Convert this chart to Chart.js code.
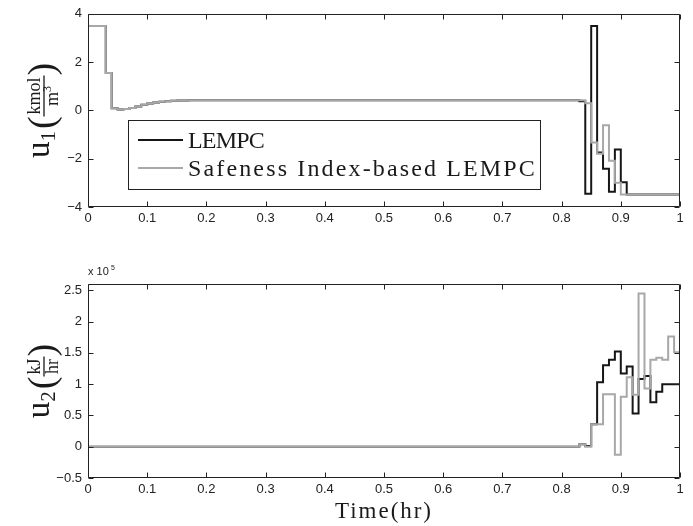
<!DOCTYPE html>
<html>
<head>
<meta charset="utf-8">
<script src="https://cdn.jsdelivr.net/npm/chart.js@4.4.0/dist/chart.umd.min.js"></script>
<style>
  html, body { margin: 0; padding: 0; background: #fff; }
  #wrap { position: relative; width: 693px; height: 526px; }
  canvas { position: absolute; left: 0; }
  #topChart { top: 0; }
  #bottomChart { top: 260px; }
</style>
</head>
<body>
<div id="wrap">
  <canvas id="topChart" width="693" height="260"></canvas>
  <canvas id="bottomChart" width="693" height="266"></canvas>
</div>
<script>
// ---- data ---------------------------------------------------------------
const seriesNames = ['LEMPC', 'Safeness Index-based LEMPC'];

const xTicks = [0, 0.1, 0.2, 0.3, 0.4, 0.5, 0.6, 0.7, 0.8, 0.9, 1];
const xTickLabels = ['0', '0.1', '0.2', '0.3', '0.4', '0.5', '0.6', '0.7', '0.8', '0.9', '1'];
const u1Ticks = [-4, -2, 0, 2, 4];
const u1TickLabels = ['\u22124', '\u22122', '0', '2', '4'];
const u2Ticks = [-0.5, 0, 0.5, 1, 1.5, 2, 2.5];
const u2TickLabels = ['\u22120.5', '0', '0.5', '1', '1.5', '2', '2.5'];

// u1 (kmol/m3), piecewise constant: value holds from time[i] to time[i+1]
const u1LempcTime  = [0, 0.03, 0.04, 0.05, 0.06, 0.07, 0.08, 0.09, 0.10, 0.11, 0.12, 0.13, 0.14, 0.15, 0.17, 0.83, 0.84, 0.85, 0.86, 0.87, 0.88, 0.89, 0.90, 0.91, 1.00];
const u1LempcValue = [3.5, 1.55, 0.09, 0.04, 0.06, 0.10, 0.16, 0.23, 0.29, 0.33, 0.36, 0.38, 0.40, 0.41, 0.42, 0.38, -3.45, 3.5, -1.74, -2.42, -3.37, -1.62, -2.97, -3.48, -3.48];
const u1SafeTime   = [0, 0.03, 0.04, 0.05, 0.06, 0.07, 0.08, 0.09, 0.10, 0.11, 0.12, 0.13, 0.14, 0.15, 0.17, 0.84, 0.85, 0.86, 0.87, 0.88, 0.89, 0.90, 1.00];
const u1SafeValue  = [3.5, 1.55, 0.09, 0.04, 0.06, 0.10, 0.16, 0.23, 0.29, 0.33, 0.36, 0.38, 0.40, 0.41, 0.42, 0.30, -1.33, -1.80, -0.62, -2.08, -3.0, -3.48, -3.48];

// u2 in units of 1e5 kJ/hr
const u2LempcTime  = [0, 0.83, 0.84, 0.85, 0.86, 0.87, 0.88, 0.89, 0.90, 0.91, 0.92, 0.93, 0.94, 0.95, 0.96, 0.97, 1.00];
const u2LempcValue = [0, 0.04, 0.01, 0.36, 1.03, 1.30, 1.39, 1.52, 1.17, 1.28, 0.53, 1.08, 1.13, 0.71, 0.88, 1.0, 1.0];
const u2SafeTime   = [0, 0.83, 0.84, 0.85, 0.87, 0.89, 0.90, 0.91, 0.92, 0.93, 0.94, 0.95, 0.96, 0.97, 0.98, 0.99, 1.00];
const u2SafeValue  = [0, 0.04, 0.0, 0.36, 0.84, -0.13, 0.80, 1.11, 0.83, 2.45, 0.93, 1.39, 1.42, 1.39, 1.76, 1.51, 1.51];

const BLACK = '#161616';
const GRAY = '#a8a8a8';
const SERIF = '"Liberation Serif", "DejaVu Serif", serif';
const SANS = '"Liberation Sans", Arial, sans-serif';

// draw text stretched (via letter spacing) to a given width
function fitText(ctx, text, x, y, width) {
  ctx.letterSpacing = '0px';
  const w = ctx.measureText(text).width;
  ctx.letterSpacing = ((width - w) / text.length) + 'px';
  ctx.fillText(text, x, y);
  ctx.letterSpacing = '0px';
}

// box around the plot with inward MATLAB-style ticks on all four sides
const axisFrame = {
  id: 'axisFrame',
  afterDatasetsDraw(chart) {
    const { ctx, chartArea: a, scales } = chart;
    const L = Math.round(a.left) + 0.5, R = Math.round(a.right) - 0.5;
    const T = Math.round(a.top) + 0.5, B = Math.round(a.bottom) - 0.5;
    ctx.save();
    ctx.strokeStyle = '#222';
    ctx.lineWidth = 1;
    ctx.beginPath();
    scales.x.ticks.forEach(t => {
      const x = Math.round(scales.x.getPixelForValue(t.value)) + 0.5;
      ctx.moveTo(x, B); ctx.lineTo(x, B - 5);
      ctx.moveTo(x, T); ctx.lineTo(x, T + 5);
    });
    scales.y.ticks.forEach(t => {
      const y = Math.round(scales.y.getPixelForValue(t.value)) + 0.5;
      ctx.moveTo(L, y); ctx.lineTo(L + 5, y);
      ctx.moveTo(R, y); ctx.lineTo(R - 5, y);
    });
    ctx.rect(L, T, R - L, B - T);
    ctx.stroke();
    ctx.restore();
  }
};

// rotated y label like u_1( num / den )
const mathLabel = {
  id: 'mathLabel',
  afterDraw(chart, args, opt) {
    const { ctx, chartArea: a } = chart;
    ctx.save();
    ctx.fillStyle = '#1a1a1a';
    ctx.strokeStyle = '#1a1a1a';
    ctx.textBaseline = 'alphabetic';
    ctx.textAlign = 'left';
    const fU = '33px ' + SERIF, fSub = '21px ' + SERIF, fPar = '38px ' + SERIF;
    const fFrac = '18px ' + SERIF, fSup = '12px ' + SERIF;
    ctx.font = fU; const wU = ctx.measureText('u').width;
    ctx.font = fSub; const wSub = ctx.measureText(opt.sub).width;
    ctx.font = fPar; const wPar = ctx.measureText('(').width;
    ctx.font = fFrac;
    const wNum = ctx.measureText(opt.num).width;
    const wDen = ctx.measureText(opt.den).width;
    ctx.font = fSup;
    const wSup = opt.sup ? ctx.measureText(opt.sup).width : 0;
    const wFrac = Math.max(wNum, wDen + wSup) + 4;
    const total = wU + wSub + 2 + wPar + wFrac + wPar;
    ctx.translate(opt.baseX, (a.top + a.bottom) / 2);
    ctx.rotate(-Math.PI / 2);
    let p = -total / 2;
    ctx.font = fU; ctx.fillText('u', p, 0); p += wU;
    ctx.font = fSub; ctx.fillText(opt.sub, p, 6); p += wSub + 2;
    ctx.font = fPar; ctx.fillText('(', p, 5); p += wPar;
    ctx.font = fFrac;
    ctx.fillText(opt.num, p + (wFrac - wNum) / 2, -9);
    const dx = p + (wFrac - wDen - wSup) / 2;
    ctx.fillText(opt.den, dx, 9);
    if (opt.sup) { ctx.font = fSup; ctx.fillText(opt.sup, dx + wDen, 2); }
    ctx.lineWidth = 1.3;
    ctx.beginPath(); ctx.moveTo(p, -5); ctx.lineTo(p + wFrac, -5); ctx.stroke();
    p += wFrac;
    ctx.font = fPar; ctx.fillText(')', p, 5);
    ctx.restore();
  }
};

// legend box inside the top plot
const boxLegend = {
  id: 'boxLegend',
  afterDraw(chart) {
    const { ctx } = chart;
    ctx.save();
    ctx.fillStyle = '#fff';
    ctx.fillRect(128, 120, 413, 70);
    ctx.strokeStyle = '#222';
    ctx.lineWidth = 1;
    ctx.strokeRect(128.5, 120.5, 412, 69);
    const colors = [BLACK, GRAY];
    const widths = [76, 349];
    seriesNames.forEach((name, i) => {
      const y = 140 + i * 28;
      ctx.strokeStyle = colors[i];
      ctx.lineWidth = 2;
      ctx.beginPath(); ctx.moveTo(138, y); ctx.lineTo(183, y); ctx.stroke();
      ctx.fillStyle = '#1a1a1a';
      ctx.font = '24px ' + SERIF;
      ctx.textBaseline = 'alphabetic';
      fitText(ctx, name, 188, y + 8, widths[i]);
    });
    ctx.restore();
  }
};

// x title and exponent note of the lower plot
const bottomNotes = {
  id: 'bottomNotes',
  afterDraw(chart) {
    const { ctx } = chart;
    ctx.save();
    ctx.fillStyle = '#1a1a1a';
    ctx.textBaseline = 'alphabetic';
    ctx.font = '23px ' + SERIF;
    fitText(ctx, 'Time(hr)', 335, 258, 98);
    ctx.font = '11px ' + SANS;
    ctx.fillText('x 10', 88, 15);
    ctx.font = '7px ' + SANS;
    ctx.fillText('5', 111, 10);
    ctx.restore();
  }
};

function stepSet(label, time, value, color, order) {
  return {
    label: label,
    data: time.map((t, i) => ({ x: t, y: value[i] })),
    borderColor: color,
    borderWidth: 2,
    pointRadius: 0,
    stepped: 'before',
    tension: 0,
    fill: false,
    order: order
  };
}

function makeChart(id, sets, yMin, yMax, yTicks, yTickLabels, padTop, xHeight, label, extraPlugins) {
  const tickFont = { family: SANS, size: 13 };
  return new Chart(document.getElementById(id), {
    type: 'line',
    data: { datasets: sets },
    options: {
      responsive: false,
      animation: false,
      events: [],
      layout: { padding: { top: padTop, right: 13, bottom: 0, left: 0 } },
      plugins: {
        legend: { display: false },
        tooltip: { enabled: false },
        mathLabel: label
      },
      scales: {
        x: {
          type: 'linear', min: 0, max: 1,
          grid: { display: false, drawTicks: false }, border: { display: false },
          afterBuildTicks: s => { s.ticks = xTicks.map(v => ({ value: v })); },
          afterFit: s => { s.height = xHeight; },
          ticks: { padding: 4, color: '#222', font: tickFont, maxRotation: 0, autoSkip: false,
                   callback: (v, i) => xTickLabels[i] }
        },
        y: {
          type: 'linear', min: yMin, max: yMax,
          grid: { display: false, drawTicks: false }, border: { display: false },
          afterBuildTicks: s => { s.ticks = yTicks.map(v => ({ value: v })); },
          afterFit: s => { s.width = 88; },
          ticks: { padding: 6, color: '#222', font: tickFont, autoSkip: false,
                   callback: (v, i) => yTickLabels[i] }
        }
      }
    },
    plugins: [axisFrame, mathLabel].concat(extraPlugins)
  });
}

makeChart('topChart',
  [stepSet(seriesNames[0], u1LempcTime, u1LempcValue, BLACK, 2),
   stepSet(seriesNames[1], u1SafeTime, u1SafeValue, GRAY, 1)],
  -4, 4, u1Ticks, u1TickLabels, 12, 53,
  { sub: '1', num: 'kmol', den: 'm', sup: '3', baseX: 49 },
  [boxLegend]);

makeChart('bottomChart',
  [stepSet(seriesNames[0], u2LempcTime, u2LempcValue, BLACK, 2),
   stepSet(seriesNames[1], u2SafeTime, u2SafeValue, GRAY, 1)],
  -0.5, 2.6, u2Ticks, u2TickLabels, 24, 48,
  { sub: '2', num: 'kJ', den: 'hr', sup: '', baseX: 49 },
  [bottomNotes]);
</script>
</body>
</html>
